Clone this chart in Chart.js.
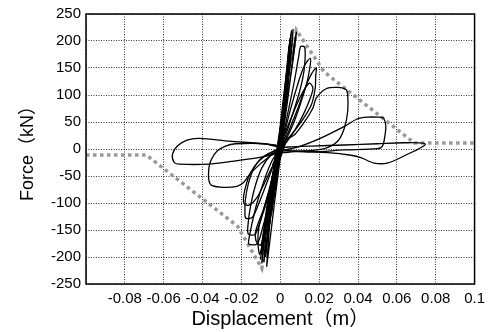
<!DOCTYPE html>
<html>
<head>
<meta charset="utf-8">
<script src="https://cdn.jsdelivr.net/npm/chart.js@4"></script>
<style>
  html, body { margin: 0; padding: 0; background: #fff; }
</style>
</head>
<body>
<canvas id="hyst" width="491" height="332"></canvas>
<script>
// Displacement (m) / force (kN) pairs

// skeleton (envelope) curve, gray dotted
const backbone = [[-0.1, -11], [-0.069, -11], [-0.022, -143], [-0.0095, -221],
                  [0.0083, 220], [0.0225, 143], [0.069, 11], [0.1, 11]];

// large cycles, +/-0.075 m, +/-0.055 m, +/-0.035 m
const cycle75 = [[0.0, 2], [0.004, 3.7], [0.016, 5.5], [0.033, 7.4], [0.05, 9.7], [0.0636, 11.6],
                 [0.0747, 9], [0.0636, -13], [0.0551, -26], [0.0483, -26], [0.0415, -16],
                 [0.0364, -11.6], [0.0245, -6.7], [0.0075, -3.7], [0.0, -4], [-0.0027, -9.7],
                 [-0.0112, -16], [-0.025, -23], [-0.0367, -28], [-0.052, -28], [-0.0546, -25],
                 [-0.0555, -10], [-0.053, 5.5], [-0.048, 16.5], [-0.0418, 19.7], [-0.0265, 14.7],
                 [-0.0027, 7.4], [0.0, 2]];
const cycle55 = [[0.0, -4], [0.01, 5], [0.0194, 17.8], [0.033, 42], [0.0398, 56], [0.045, 59],
                 [0.05, 59], [0.053, 57.6], [0.0543, 42], [0.0537, 21], [0.0526, 5.5], [0.05, 0.6],
                 [0.033, -1.8], [0.016, -5.5], [0.004, -3], [0.0, 2], [-0.0078, 9.7], [-0.0231, 9.7],
                 [-0.0282, 5.5], [-0.0325, -3.7], [-0.0354, -19], [-0.0367, -34], [-0.0367, -59],
                 [-0.035, -68], [-0.029, -71], [-0.0223, -69], [-0.0189, -62], [-0.0155, -46],
                 [-0.0104, -28], [-0.0053, -13], [-0.0019, -0.6], [0.0, -4]];
const cycle35 = [[0.0, -10], [0.0024, 15], [0.0075, 27], [0.0126, 51], [0.0168, 76], [0.0185, 94],
                 [0.0236, 111.5], [0.0296, 114], [0.0338, 110], [0.0347, 100.5], [0.0347, 70],
                 [0.033, 39], [0.0296, 14.7], [0.0228, 0.6], [0.0126, -3.7], [0.004, -6],
                 [-0.006, -10], [-0.011, -22], [-0.0155, -45], [-0.018, -72], [-0.019, -92],
                 [-0.0185, -102], [-0.016, -104], [-0.012, -90], [-0.008, -62], [-0.004, -32], [0.0, -10]];

// medium cycles, positive side
const loopP1 = [[-0.003, -25], [0.0, -5], [0.004, 30], [0.009, 75], [0.013, 115], [0.0162, 140],
                [0.0185, 150], [0.0182, 135], [0.018, 113], [0.016, 82], [0.0109, 51], [0.0058, 27],
                [0.0007, 8.6], [-0.003, -10]];
const loopP2 = [[-0.004, -35], [0.0, 0], [0.0035, 60], [0.0072, 125], [0.0095, 172], [0.0105, 190],
                [0.0126, 188], [0.0126, 158], [0.0115, 130], [0.009, 95], [0.0055, 55], [0.002, 18],
                [-0.002, -12]];
const loopP3 = [[-0.004, -30], [0.001, 15], [0.005, 70], [0.009, 120], [0.0125, 155], [0.0155, 168],
                [0.0152, 150], [0.0135, 120], [0.0105, 85], [0.0065, 45], [0.002, 12], [-0.003, -15]];
const loopP4 = [[-0.003, -20], [0.002, 25], [0.007, 70], [0.0115, 105], [0.015, 122], [0.0168, 113],
                [0.0155, 95], [0.012, 65], [0.0075, 35], [0.003, 12], [-0.002, -8]];

// medium cycles, negative side
const loopN1 = [[0.002, 3], [-0.004, -5], [-0.009, -15], [-0.0135, -35], [-0.0165, -65], [-0.018, -95],
                [-0.0182, -118], [-0.0178, -128], [-0.0145, -127], [-0.0115, -105], [-0.0075, -68],
                [-0.0035, -30], [0.001, 8]];
const loopN2 = [[0.001, 2], [-0.005, -12], [-0.0095, -35], [-0.013, -70], [-0.0155, -110],
                [-0.0166, -140], [-0.0165, -157], [-0.013, -158], [-0.0095, -125], [-0.0055, -80],
                [-0.0015, -30], [0.003, 15]];
const loopN3 = [[0.0, 0], [-0.004, -20], [-0.008, -55], [-0.012, -100], [-0.015, -145], [-0.0163, -170],
                [-0.0162, -176], [-0.012, -176], [-0.009, -145], [-0.0055, -95], [-0.0015, -35], [0.003, 15]];

// narrow elastic cycles through the origin
const elastic1 = [[-0.0095, -212], [-0.0075, -150], [-0.0052, -100], [-0.002, -40], [0.0005, 10],
                  [0.0025, 80], [0.004, 150], [0.0052, 200], [0.0058, 219], [0.0052, 205], [0.0035, 150],
                  [0.0015, 90], [-0.0005, 30], [-0.003, -30], [-0.006, -90], [-0.008, -150], [-0.0095, -212]];
const elastic2 = [[-0.007, -218], [-0.005, -160], [-0.003, -100], [-0.0005, -30], [0.0015, 30],
                  [0.0035, 100], [0.0055, 170], [0.0066, 221], [0.006, 200], [0.004, 140], [0.0015, 70],
                  [-0.001, 0], [-0.0035, -70], [-0.0055, -140], [-0.007, -218]];
const elastic3 = [[-0.0085, -210], [-0.006, -150], [-0.0035, -90], [0.0, 0], [0.003, 70], [0.0055, 140],
                  [0.007, 190], [0.0083, 216], [0.0078, 200], [0.006, 150], [0.0035, 90], [0.001, 25],
                  [-0.002, -40], [-0.0055, -110], [-0.0075, -165], [-0.0085, -210]];
const elastic4 = [[-0.0075, -200], [-0.006, -150], [-0.004, -100], [-0.0015, -40], [0.001, 25],
                  [0.003, 100], [0.0045, 170], [0.0052, 205], [0.0046, 185], [0.003, 130], [0.001, 60],
                  [-0.0012, 0], [-0.004, -70], [-0.0065, -150], [-0.0075, -200]];
const elastic5 = [[-0.0095, -195], [-0.0085, -160], [-0.0065, -110], [-0.004, -60], [-0.0015, -15],
                  [0.001, 40], [0.003, 110], [0.0045, 175], [0.005, 200], [0.0045, 190], [0.0028, 130],
                  [0.0008, 60], [-0.0015, 0], [-0.0045, -60], [-0.0075, -130], [-0.0095, -195]];
const elastic6 = [[-0.0045, -120], [-0.002, -60], [0.0005, 10], [0.002, 70], [0.003, 120],
                  [0.0022, 95], [0.0, 25], [-0.002, -30], [-0.004, -90], [-0.0045, -120]];
const elastic7 = [[-0.0065, -165], [-0.004, -100], [-0.001, -25], [0.0015, 45], [0.0035, 120],
                  [0.0045, 165], [0.0038, 140], [0.0015, 70], [-0.001, 5], [-0.0035, -70],
                  [-0.0055, -130], [-0.0065, -165]];
const elastic8 = [[-0.0102, -205], [-0.009, -170], [-0.007, -120], [-0.0045, -70], [-0.002, -25],
                  [0.0005, 20], [0.0025, 90], [0.0042, 160], [0.0055, 212], [0.005, 200], [0.0035, 140],
                  [0.0012, 70], [-0.001, 10], [-0.004, -50], [-0.007, -110], [-0.009, -165], [-0.0102, -205]];
const elastic9 = [[0.0045, 190], [0.003, 120], [0.0005, 40], [-0.003, -40], [-0.0075, -100],
                  [-0.011, -145], [-0.0115, -175], [-0.0105, -195], [-0.008, -150], [-0.005, -90],
                  [-0.002, -30], [0.001, 40], [0.003, 120], [0.0045, 190]];
const elastic10 = [[0.0035, 150], [0.002, 90], [-0.0005, 20], [-0.004, -50], [-0.0085, -110],
                   [-0.0125, -150], [-0.0125, -170], [-0.01, -178], [-0.0075, -130], [-0.0045, -80],
                   [-0.0015, -20], [0.0015, 60], [0.0035, 150]];

const hystLoops = [cycle75, cycle55, cycle35, loopP1, loopP2, loopP3, loopP4, loopN1, loopN2, loopN3,
                   elastic1, elastic2, elastic3, elastic4, elastic5, elastic6, elastic7, elastic8,
                   elastic9, elastic10];

const toXY = arr => arr.map(([x, y]) => ({ x, y }));

const FONT = "'Liberation Sans', Arial, 'Noto Sans CJK JP', sans-serif";

// box around the plot area
const framePlugin = {
  id: 'frame',
  afterDraw(chart) {
    const { ctx, chartArea: a } = chart;
    ctx.save();
    ctx.strokeStyle = '#000';
    ctx.lineWidth = 1.5;
    ctx.strokeRect(a.left, a.top, a.right - a.left, a.bottom - a.top);
    ctx.restore();
  }
};

const datasets = hystLoops.map(loop => ({
  data: toXY(loop),
  showLine: true,
  borderColor: '#000',
  borderWidth: 1.3,
  pointRadius: 0,
  tension: 0.3,
  order: 0
}));

datasets.push({
  data: toXY(backbone),
  showLine: true,
  borderColor: '#999',
  borderWidth: 3.5,
  borderDash: [3.5, 3.5],
  pointRadius: 0,
  tension: 0,
  order: 1
});

new Chart(document.getElementById('hyst'), {
  type: 'scatter',
  data: { datasets },
  options: {
    responsive: false,
    animation: false,
    events: [],
    layout: { padding: { top: 12, right: 13, left: 0, bottom: 0 } },
    plugins: { legend: { display: false }, tooltip: { enabled: false } },
    scales: {
      x: {
        type: 'linear',
        min: -0.1,
        max: 0.1,
        afterFit(s) { s.height = 48; },
        grid: { color: '#000', lineWidth: 0.8, drawTicks: false },
        border: { display: false, dash: [1, 1.5] },
        ticks: {
          stepSize: 0.02,
          autoSkip: false,
          maxRotation: 0,
          padding: 6,
          color: '#000',
          font: { family: FONT, size: 15 },
          // no label at the left end; trim trailing zeros (0.1, not 0.10)
          callback: (value, index) => index === 0 ? '' : String(+value.toFixed(3))
        },
        title: {
          display: true,
          text: 'Displacement（m）',
          color: '#000',
          font: { family: FONT, size: 20 },
          padding: { top: 0, bottom: 1 }
        }
      },
      y: {
        min: -250,
        max: 250,
        afterFit(s) { s.width = 86; },
        grid: { color: '#000', lineWidth: 0.8, drawTicks: false },
        border: { display: false, dash: [1, 1.5] },
        ticks: {
          stepSize: 50,
          padding: 5,
          color: '#000',
          font: { family: FONT, size: 15 }
        },
        title: {
          display: true,
          text: 'Force（kN）',
          color: '#000',
          font: { family: FONT, size: 18 },
          padding: { top: 17, bottom: 0 }
        }
      }
    }
  },
  plugins: [framePlugin]
});
</script>
</body>
</html>
